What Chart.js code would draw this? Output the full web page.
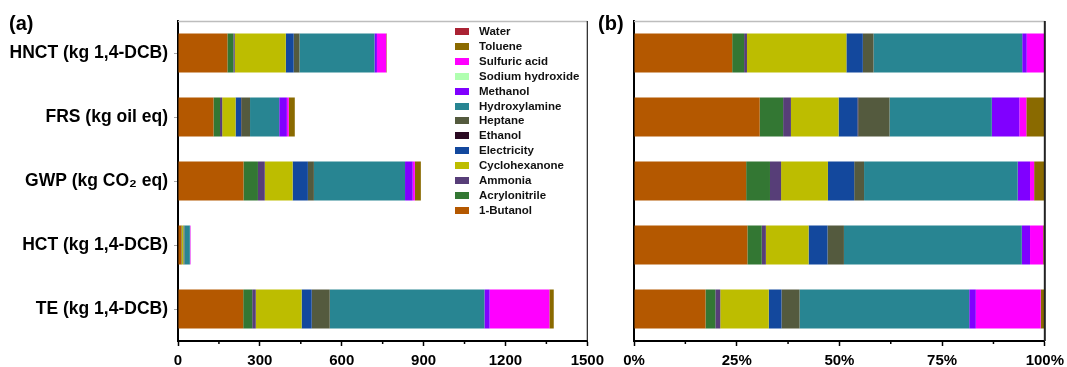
<!DOCTYPE html>
<html>
<head>
<meta charset="utf-8">
<script src="https://cdn.jsdelivr.net/npm/chart.js@4/dist/chart.umd.min.js"></script>
<style>
  html, body { margin:0; padding:0; background:#fff; }
  #wrap { position:relative; width:1067px; height:367px; overflow:hidden; font-family: Arial, "Liberation Sans", sans-serif; }
  #ca { position:absolute; left:0; top:0; }
  #cb { position:absolute; left:590px; top:0; }
  .plabel { position:absolute; font-weight:bold; font-size:20px; color:#000; }
  #legend { position:absolute; left:455px; top:24px; }
  .lrow { position:absolute; left:0; height:15px; white-space:nowrap; }
  .lsw { position:absolute; left:0; top:4px; width:14px; height:7px; }
  .ltx { position:absolute; left:24px; top:0; font-size:11.5px; font-weight:bold; line-height:15px; color:#111; }
</style>
</head>
<body>
<div id="wrap">
  <canvas id="ca" width="610" height="367"></canvas>
  <canvas id="cb" width="477" height="367"></canvas>
  <div class="plabel" style="left:9px;top:12px;">(a)</div>
  <div class="plabel" style="left:598px;top:12px;">(b)</div>
  <div id="legend"></div>
</div>
<script>
// ---- data ----
const categories = ['HNCT (kg 1,4-DCB)', 'FRS (kg oil eq)', 'GWP (kg CO\u2082 eq)', 'HCT (kg 1,4-DCB)', 'TE (kg 1,4-DCB)'];
const components = ['1-Butanol', 'Acrylonitrile', 'Ammonia', 'Cyclohexanone', 'Electricity', 'Ethanol', 'Heptane', 'Hydroxylamine', 'Methanol', 'Sodium hydroxide', 'Sulfuric acid', 'Toluene', 'Water'];
const componentColors = ['#B45800', '#337733', '#573E78', '#BDBD00', '#13489D', '#2A0A22', '#545A3E', '#288592', '#8000FF', '#B0FFB0', '#FF00FF', '#8A6A00', '#AA2233'];

// panel (a): absolute contributions (order: HNCT, FRS, GWP, HCT, TE)
const butanolA       = [181, 130, 240, 12.7, 239];
const acrylonitrileA = [22, 24, 53, 1.6, 33];
const ammoniaA       = [5, 8, 25, 0.5, 13];
const cyclohexanoneA = [187, 49, 102, 4.8, 168];
const electricityA   = [29, 20, 56, 2.1, 37];
const ethanolA       = [0, 1, 0, 0, 0];
const heptaneA       = [21, 32, 22, 1.8, 66];
const hydroxylamineA = [275, 107, 334, 19.9, 567];
const methanolA      = [9, 28, 28, 0.9, 19];
const naohA          = [0, 0, 0, 0, 0];
const sulfuricA      = [34, 7, 8, 1.5, 219];
const tolueneA       = [2, 22, 22, 0.2, 16];
const waterA         = [0, 0, 0, 0, 0];

// panel (b): percentage contributions
const butanolB       = [23.9, 30.6, 27.3, 27.6, 17.4];
const acrylonitrileB = [2.9, 5.7, 5.8, 3.5, 2.4];
const ammoniaB       = [0.7, 1.9, 2.7, 1.0, 1.2];
const cyclohexanoneB = [24.2, 11.6, 11.4, 10.4, 11.8];
const electricityB   = [4.0, 4.6, 6.4, 4.6, 3.1];
const ethanolB       = [0, 0.2, 0, 0, 0];
const heptaneB       = [2.6, 7.6, 2.4, 4.0, 4.4];
const hydroxylamineB = [36.2, 24.9, 37.4, 43.3, 41.3];
const methanolB      = [1.1, 6.7, 3.0, 2.0, 1.6];
const naohB          = [0, 0, 0, 0, 0];
const sulfuricB      = [4.2, 1.7, 1.0, 3.2, 15.8];
const tolueneB       = [0.2, 4.5, 2.6, 0.4, 1.0];
const waterB         = [0, 0, 0, 0, 0];

const ticksA = [0, 300, 600, 900, 1200, 1500];
const ticksB = [0, 25, 50, 75, 100];

const seriesA = [butanolA, acrylonitrileA, ammoniaA, cyclohexanoneA, electricityA, ethanolA, heptaneA, hydroxylamineA, methanolA, naohA, sulfuricA, tolueneA, waterA];
const seriesB = [butanolB, acrylonitrileB, ammoniaB, cyclohexanoneB, electricityB, ethanolB, heptaneB, hydroxylamineB, methanolB, naohB, sulfuricB, tolueneB, waterB];

// ---- legend (HTML, reverse order like the reference) ----
const leg = document.getElementById('legend');
components.slice().reverse().forEach((name, i) => {
  const idx = components.indexOf(name);
  const row = document.createElement('div');
  row.className = 'lrow';
  row.style.top = (i * 14.9) + 'px';
  row.innerHTML = '<div class="lsw" style="background:' + componentColors[idx] + '"></div><div class="ltx">' + name + '</div>';
  leg.appendChild(row);
});

const FONT = 'Arial, "Liberation Sans", sans-serif';

function makeDatasets(series) {
  return components.map((name, i) => ({
    label: name,
    data: series[i],
    backgroundColor: componentColors[i],
    borderWidth: 0,
    barPercentage: 0.61,
    categoryPercentage: 1.0
  }));
}

// plugin: frame (top gray, right dark) + minor x ticks
function framePlugin(rightWidth, minorStep) {
  return {
    id: 'frame',
    afterDraw(chart) {
      const ctx = chart.ctx, a = chart.chartArea, x = chart.scales.x;
      ctx.save();
      ctx.strokeStyle = '#bdbdbd';
      ctx.lineWidth = 1.5;
      ctx.beginPath(); ctx.moveTo(a.left, a.top + 0.5); ctx.lineTo(a.right, a.top + 0.5); ctx.stroke();
      ctx.strokeStyle = '#222';
      ctx.lineWidth = rightWidth;
      ctx.beginPath(); ctx.moveTo(a.right, a.top); ctx.lineTo(a.right, a.bottom); ctx.stroke();
      // minor ticks
      ctx.strokeStyle = '#000';
      ctx.lineWidth = 1.5;
      for (let v = x.min + minorStep; v < x.max; v += 2 * minorStep) {
        const px = x.getPixelForValue(v);
        ctx.beginPath(); ctx.moveTo(px, a.bottom); ctx.lineTo(px, a.bottom + 3); ctx.stroke();
      }
      ctx.restore();
    }
  };
}

function makeOptions(xmin, xmax, step, fmt, yWidth, padL, padR, showY) {
  return {
    indexAxis: 'y',
    responsive: false,
    animation: false,
    layout: { padding: { left: padL, right: padR, top: 21, bottom: 0 } },
    plugins: { legend: { display: false }, tooltip: { enabled: false } },
    scales: {
      x: {
        stacked: true,
        min: xmin, max: xmax,
        afterFit: s => { s.height = 26; },
        afterBuildTicks: s => { s.ticks = (xmax === 1500 ? ticksA : ticksB).map(v => ({ value: v })); },
        ticks: {
          stepSize: step,
          callback: fmt,
          color: '#000',
          padding: 6,
          maxRotation: 0,
          font: { family: FONT, size: 15, weight: 'bold' }
        },
        grid: { drawOnChartArea: false, drawTicks: true, tickLength: 5, color: '#000', tickWidth: 1.5 },
        border: { display: true, color: '#000', width: 2 }
      },
      y: {
        stacked: true,
        afterFit: s => { s.width = yWidth; },
        ticks: {
          display: showY,
          color: '#000',
          padding: 6,
          font: { family: FONT, size: 17.5, weight: 'bold' }
        },
        grid: { offset: false, drawOnChartArea: false, drawTicks: showY, tickLength: 4, color: '#aaa', tickWidth: 1 },
        border: { display: true, color: '#000', width: 2 }
      }
    }
  };
}

new Chart(document.getElementById('ca'), {
  type: 'bar',
  data: { labels: categories, datasets: makeDatasets(seriesA) },
  options: makeOptions(0, 1500, 300, v => String(v), 178, 0, 18, true),
  plugins: [framePlugin(1.2, 150)]
});

const cbEl = document.getElementById('cb');
cbEl.width = 480;
new Chart(cbEl, {
  type: 'bar',
  data: { labels: categories, datasets: makeDatasets(seriesB) },
  options: makeOptions(0, 100, 25, v => v + '%', 0, 44, 20, false),
  plugins: [framePlugin(2, 12.5)]
});
</script>
</body>
</html>
